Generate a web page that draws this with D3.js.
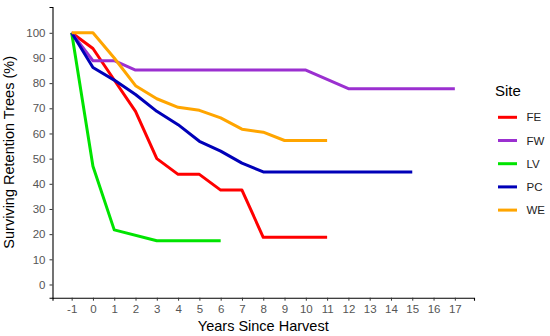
<!DOCTYPE html>
<html>
<head>
<meta charset="utf-8">
<script src="https://cdn.jsdelivr.net/npm/d3@7"></script>
<style>
  body { margin: 0; background: #fff; }
  text { font-family: "Liberation Sans", Arial, sans-serif; }
</style>
</head>
<body>
<div id="chart"></div>
<script>
// Site codes and line colours
const sites = ["FE", "FW", "LV", "PC", "WE"];
const siteColors = ["#ff0000", "#9b30d0", "#00e400", "#0000b8", "#ffa500"];

// Survival (%) by years since harvest
const feYears = [-1, 0, 1, 2, 3, 4, 5, 6, 7, 8, 11];
const feValues = [100, 93.75, 81.25, 68.75, 50, 43.75, 43.75, 37.5, 37.5, 18.75, 18.75];

const fwYears = [-1, 0, 1, 2, 10, 12, 17];
const fwValues = [100, 88.9, 88.9, 85.2, 85.2, 77.8, 77.8];

const lvYears = [-1, 0, 1, 3, 6];
const lvValues = [100, 47, 21.7, 17.4, 17.4];

const pcYears = [-1, 0, 1, 2, 3, 4, 5, 6, 7, 8, 15];
const pcValues = [100, 86.2, 81.2, 75.5, 68.8, 63.5, 56.9, 53, 48.2, 44.7, 44.7];

const weYears = [-1, 0, 1, 2, 3, 4, 5, 6, 7, 8, 9, 11];
const weValues = [100, 100, 90, 79, 73.8, 70.4, 69.2, 66.2, 61.7, 60.5, 57.2, 57.2];

// Tick labels
const xTicks = d3.range(-1, 18);
const yTicks = d3.range(0, 101, 10);

const width = 550;
const height = 336;

const svg = d3.select("#chart")
    .append("svg")
    .attr("width", width)
    .attr("height", height);

svg.append("rect")
    .attr("width", width)
    .attr("height", height)
    .attr("fill", "#fff");

// ggplot-style 5% expansion on both axes
const x = d3.scaleLinear().domain([-1.9, 17.9]).range([52.5, 474]);
const y = d3.scaleLinear().domain([-5.25, 110.25]).range([297.7, 7]);

const series = [
    { site: "FE", years: feYears, values: feValues },
    { site: "FW", years: fwYears, values: fwValues },
    { site: "LV", years: lvYears, values: lvValues },
    { site: "PC", years: pcYears, values: pcValues },
    { site: "WE", years: weYears, values: weValues }
].map((s, i) => ({
    site: s.site,
    color: siteColors[i],
    points: s.years.map((yr, j) => ({ year: yr, value: s.values[j] }))
}));

// Axes (plain hyphen for negatives, like the original)
const fmt = d => String(d);

const xAxis = svg.append("g")
    .attr("transform", `translate(0,${y.range()[0]})`)
    .call(d3.axisBottom(x).tickValues(xTicks).tickFormat(fmt).tickSizeOuter(0).tickSize(3).tickPadding(4));

const yAxis = svg.append("g")
    .attr("transform", `translate(${x.range()[0]},0)`)
    .call(d3.axisLeft(y).tickValues(yTicks).tickFormat(fmt).tickSizeOuter(0).tickSize(3).tickPadding(4));

[xAxis, yAxis].forEach(ax => {
    ax.select(".domain").attr("stroke", "#000").attr("stroke-width", 1.1);
    ax.selectAll(".tick line").attr("stroke", "#333");
    ax.selectAll(".tick text")
        .attr("fill", "#555")
        .style("font-size", "11.5px")
        .style("font-family", "'Liberation Sans', Arial, sans-serif");
});

// Lines
const line = d3.line()
    .x(d => x(d.year))
    .y(d => y(d.value));

svg.append("g")
    .selectAll("path")
    .data(series)
    .join("path")
    .attr("d", d => line(d.points))
    .attr("fill", "none")
    .attr("stroke", d => d.color)
    .attr("stroke-width", 3)
    .attr("stroke-linejoin", "round");

// Axis titles
svg.append("text")
    .attr("x", (x.range()[0] + x.range()[1]) / 2)
    .attr("y", 331)
    .attr("text-anchor", "middle")
    .style("font-size", "14.5px")
    .attr("fill", "#000")
    .text("Years Since Harvest");

svg.append("text")
    .attr("transform", `translate(14,${(y.range()[0] + y.range()[1]) / 2}) rotate(-90)`)
    .attr("text-anchor", "middle")
    .style("font-size", "14.5px")
    .attr("fill", "#000")
    .text("Surviving Retention Trees (%)");

// Legend
const legend = svg.append("g");

legend.append("text")
    .attr("x", 495)
    .attr("y", 96)
    .style("font-size", "15px")
    .attr("fill", "#000")
    .text("Site");

const items = legend.selectAll("g.item")
    .data(series)
    .join("g")
    .attr("class", "item")
    .attr("transform", (d, i) => `translate(0,${117.3 + i * 23.2})`);

items.append("line")
    .attr("x1", 498)
    .attr("x2", 517)
    .attr("stroke", d => d.color)
    .attr("stroke-width", 3);

items.append("text")
    .attr("x", 526.5)
    .attr("dy", "0.35em")
    .style("font-size", "11.5px")
    .attr("fill", "#222")
    .text(d => d.site);
</script>
</body>
</html>
